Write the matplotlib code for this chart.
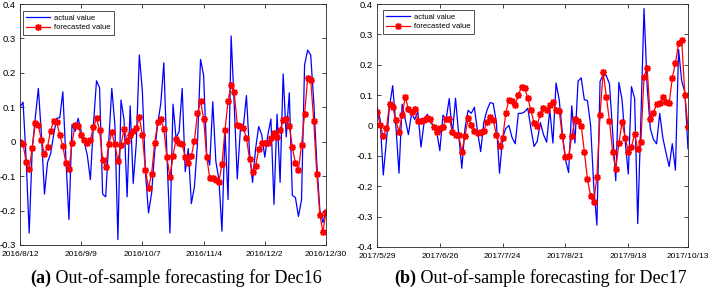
import matplotlib
matplotlib.use("Agg")
import matplotlib.pyplot as plt
import numpy as np

# ---- data ----
dates_a = ["2016/8/12", "2016/9/9", "2016/10/7", "2016/11/4", "2016/12/2", "2016/12/30"]
dates_b = ["2017/5/29", "2017/6/26", "2017/7/24", "2017/8/21", "2017/9/18", "2017/10/13"]

actual_a = [
    0.10, 0.115, -0.05, -0.265, -0.02, 0.07, 0.155, 0.02, -0.152, -0.06,
    -0.035, 0.02, 0.068, 0.07, 0.145, -0.05, -0.226, 0.05, 0.03, 0.068,
    0.03, 0.0, -0.04, -0.11, 0.05, 0.177, 0.157, -0.152, -0.16, 0.0,
    0.155, 0.05, -0.284, 0.121, 0.064, -0.16, 0.104, -0.121, -0.005, 0.252,
    0.145, -0.09, -0.207, -0.15, -0.03, 0.053, 0.11, 0.229, -0.034, -0.265,
    0.109, 0.01, 0.03, 0.155, -0.087, -0.02, -0.18, -0.131, -0.005, 0.239,
    0.193, -0.034, -0.068, 0.116, -0.057, -0.11, -0.26, 0.03, -0.168, 0.307,
    0.11, -0.108, 0.034, 0.044, 0.134, -0.03, -0.118, -0.02, 0.044, 0.02,
    -0.045, 0.02, 0.066, -0.182, 0.08, -0.118, 0.197, 0.014, 0.142, -0.156,
    -0.162, -0.217, -0.169, 0.223, 0.266, 0.252, 0.116, -0.063, -0.2, -0.235,
    -0.2,
]
forecast_a = [
    0.0, -0.007, -0.058, -0.08, -0.017, 0.053, 0.048, 0.004, -0.037, -0.014,
    0.032, 0.06, 0.056, 0.019, -0.013, -0.063, -0.08, -0.005, 0.048, 0.045,
    0.02, 0.005, -0.005, 0.005, 0.042, 0.068, 0.034, -0.054, -0.073, -0.008,
    0.027, -0.008, -0.055, -0.01, 0.037, 0.003, 0.019, 0.032, 0.039, 0.071,
    0.019, -0.083, -0.134, -0.094, -0.005, 0.056, 0.067, 0.037, -0.044, -0.102,
    -0.041, 0.008, -0.005, -0.008, -0.044, -0.063, -0.042, 0.003, 0.082, 0.119,
    0.067, -0.044, -0.105, -0.105, -0.112, -0.117, -0.065, 0.034, 0.119, 0.165,
    0.143, 0.05, 0.046, 0.04, 0.01, -0.049, -0.089, -0.071, -0.022, -0.003,
    -0.004, -0.005, 0.01, 0.026, 0.015, 0.034, 0.063, 0.065, 0.047, -0.016,
    -0.062, -0.081, -0.009, 0.08, 0.184, 0.179, 0.06, -0.094, -0.213, -0.262,
    -0.204,
]

actual_b = [
    0.06, 0.02, -0.163, -0.05, 0.065, 0.131, 0.0, -0.157, 0.07, 0.02,
    -0.03, 0.04, 0.02, 0.045, -0.071, 0.01, 0.037, 0.01, 0.0, -0.02,
    -0.083, 0.034, 0.02, 0.089, -0.03, 0.09, -0.03, -0.141, -0.01, 0.05,
    0.04, 0.06, -0.02, -0.086, 0.01, 0.05, 0.075, 0.073, 0.01, -0.157,
    -0.04, -0.01, 0.0, -0.04, -0.06, 0.04, 0.04, 0.045, 0.057, -0.01,
    -0.069, -0.052, 0.01, -0.03, -0.055, 0.052, -0.058, 0.14, 0.085, -0.025,
    -0.113, -0.155, 0.065, -0.058, 0.146, 0.157, 0.085, 0.082, 0.0, -0.2,
    -0.328, 0.145, 0.167, 0.164, 0.137, -0.02, -0.182, 0.142, 0.085, -0.05,
    -0.16, 0.128, 0.09, -0.323, 0.02, 0.385, 0.128, -0.01, -0.046, -0.06,
    0.04, -0.041, -0.09, -0.135, -0.06, -0.147, 0.25, 0.146, 0.11, -0.077,
]
forecast_b = [
    0.046, 0.002, -0.036, -0.009, 0.072, 0.061, 0.017, -0.021, 0.035, 0.094,
    0.054, 0.045, 0.054, 0.016, 0.014, 0.019, 0.026, 0.023, -0.006, -0.02,
    -0.009, -0.006, 0.021, 0.023, -0.021, -0.032, -0.032, -0.086, -0.035, 0.024,
    0.003, -0.017, -0.025, -0.023, -0.017, 0.011, 0.028, 0.019, -0.03, -0.066,
    -0.042, 0.041, 0.085, 0.082, 0.066, 0.101, 0.126, 0.123, 0.09, 0.05,
    0.008, 0.0, 0.039, 0.058, 0.052, 0.068, 0.077, 0.052, 0.049, -0.036,
    -0.104, -0.1, -0.036, 0.02, 0.016, 0.0, -0.086, -0.177, -0.232, -0.251,
    -0.17, 0.035, 0.177, 0.095, 0.016, -0.086, -0.144, -0.058, 0.011, -0.04,
    -0.086, -0.07, -0.028, -0.078, -0.054, 0.161, 0.189, 0.022, 0.041, 0.07,
    0.073, 0.093, 0.079, 0.073, 0.156, 0.206, 0.271, 0.282, 0.1, -0.005,
]

yticks_a = [-0.3, -0.2, -0.1, 0.0, 0.1, 0.2, 0.3, 0.4]
yticks_b = [-0.4, -0.3, -0.2, -0.1, 0.0, 0.1, 0.2, 0.3, 0.4]

captions = [("(a)", " Out-of-sample forecasting for Dec16"),
            ("(b)", " Out-of-sample forecasting for Dec17")]

plt.rcParams["font.family"] = ["Liberation Sans", "DejaVu Sans"]

W, H = 709, 293
fig = plt.figure(figsize=(W / 100, H / 100), dpi=100)

EDGE = "#262626"


def panel(rect, actual, forecast, dates, yticks, leg_anchor):
    ax = fig.add_axes(rect)
    x = np.arange(len(actual))
    ax.plot(x, actual, color="blue", lw=0.9, label="actual value")
    ax.plot(x, forecast, color="red", lw=0.9, marker=(8, 2, 0), ms=5,
            mew=1.0, label="forecasted value")
    n = len(actual) - 1
    ax.set_xlim(0, n)
    ax.set_ylim(yticks[0], yticks[-1])
    ax.set_xticks([0, 20, 40, 60, 80, n])
    ax.set_xticklabels(dates)
    ax.set_yticks(yticks)
    ax.set_yticklabels(["0" if abs(v) < 1e-9 else f"{v:g}" for v in yticks])
    ax.tick_params(direction="in", length=3, width=0.6,
                   top=True, right=True, colors=EDGE, labelcolor="black")
    ax.tick_params(axis="x", labelsize=6, pad=4)
    ax.tick_params(axis="y", labelsize=6.8, pad=3)
    for s in ax.spines.values():
        s.set_linewidth(0.6)
        s.set_color(EDGE)
    leg = ax.legend(loc="upper left", bbox_to_anchor=leg_anchor, borderaxespad=0,
                    fontsize=5.5, frameon=True, fancybox=False, handlelength=3.1,
                    borderpad=0.45, labelspacing=0.3, handletextpad=0.5)
    leg.get_frame().set_edgecolor("black")
    leg.get_frame().set_linewidth(0.6)
    return ax


panel([20 / W, (H - 245) / H, 306 / W, 241 / H], actual_a, forecast_a, dates_a,
      yticks_a, (0.01, 0.971))
panel([377 / W, (H - 247) / H, 311 / W, 243 / H], actual_b, forecast_b, dates_b,
      yticks_b, (0.019, 0.975))

for (tag, rest), xpos in zip(captions, [30 / W, 394 / W]):
    t = fig.text(xpos, 1 - 287 / H, tag, fontsize=13, fontweight="bold",
                 family="Liberation Serif", va="bottom", ha="left")
    fig.add_artist(plt.Annotation(rest, xy=(1, 0), xycoords=t, va="bottom",
                                  ha="left", fontsize=13,
                                  family="Liberation Serif",
                                  annotation_clip=False))

fig.savefig("out.png", dpi=100)
